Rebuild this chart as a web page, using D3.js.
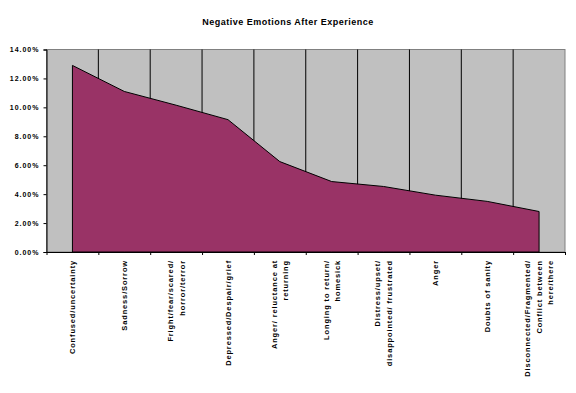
<!DOCTYPE html>
<html>
<head>
<meta charset="utf-8">
<script src="https://cdn.jsdelivr.net/npm/d3@7"></script>
<style>
  body { margin: 0; background: #fff; }
  text { font-family: "Liberation Sans", Arial, sans-serif; font-weight: bold; }
</style>
</head>
<body>
<svg width="576" height="393"></svg>
<script>
// data
var categories = [
  ["Confused/uncertainty"],
  ["Sadness/Sorrow"],
  ["Fright/fear/scared/", "horror/terror"],
  ["Depressed/Despair/grief"],
  ["Anger/ reluctance at", "returning"],
  ["Longing to return/", "homesick"],
  ["Distress/upset/", "disappointed/ frustrated"],
  ["Anger"],
  ["Doubts of sanity"],
  ["Disconnected/Fragmented/", "Conflict between", "here/there"]
];
var values = [0.129, 0.111, 0.1015, 0.0915, 0.0625, 0.0487, 0.0453, 0.0393, 0.035, 0.028];
var yTicks = [0, 0.02, 0.04, 0.06, 0.08, 0.10, 0.12, 0.14];

var svg = d3.select("svg"),
    margin = {top: 49.5, right: 11, bottom: 141, left: 46.5},
    width = 576 - margin.left - margin.right,
    height = 393 - margin.top - margin.bottom,
    g = svg.append("g")
      .attr("transform", "translate(" + margin.left + "," + margin.top + ")");

var names = categories.map(function(d) { return d.join(" "); });

var x = d3.scaleBand().domain(names).range([0, width]),
    xb = d3.scaleLinear().domain([0, names.length]).range([0, width]),
    y = d3.scaleLinear().domain([0, 0.14]).range([height, 0]);

// title
svg.append("text")
  .attr("x", 288)
  .attr("y", 25)
  .attr("text-anchor", "middle")
  .style("font-size", "9px")
  .style("letter-spacing", "0.5px")
  .text("Negative Emotions After Experience");

// plot area
g.append("rect")
  .attr("width", width)
  .attr("height", height)
  .attr("fill", "#c0c0c0")
  .attr("stroke", "#808080")
  .attr("stroke-width", 1);

// gridlines between categories
g.selectAll(".grid")
  .data(d3.range(1, names.length))
  .enter().append("line")
  .attr("x1", function(d) { return xb(d); })
  .attr("x2", function(d) { return xb(d); })
  .attr("y1", 0)
  .attr("y2", height)
  .attr("stroke", "#000")
  .attr("stroke-width", 1);

// area
var area = d3.area()
  .x(function(d, i) { return x(names[i]) + x.bandwidth() / 2; })
  .y0(height)
  .y1(function(d) { return y(d); });

g.append("path")
  .datum(values)
  .attr("d", area)
  .attr("fill", "#993366")
  .attr("stroke", "#000")
  .attr("stroke-width", 1);

// y axis
var yAxis = g.append("g")
  .call(d3.axisLeft(y).tickValues(yTicks).tickFormat(d3.format(".2%")).tickSize(3).tickPadding(4));
yAxis.select(".domain").attr("stroke", "#000");
yAxis.selectAll("text")
  .style("font-size", "7px")
  .style("letter-spacing", "1px")
  .attr("font-family", null);

// x axis (ticks at category boundaries)
var xAxis = g.append("g")
  .attr("transform", "translate(0," + height + ")")
  .call(d3.axisBottom(xb).tickValues(d3.range(names.length + 1)).tickFormat("").tickSize(3).tickSizeOuter(0));
xAxis.select(".domain").attr("stroke", "#000");

// category labels, rotated
var labels = g.selectAll(".xlab")
  .data(categories)
  .enter().append("text")
  .attr("class", "xlab")
  .attr("text-anchor", "end")
  .style("font-size", "7.5px")
  .style("letter-spacing", "0.85px")
  .attr("transform", function(d, i) {
    return "translate(" + (x(names[i]) + x.bandwidth() / 2) + "," + (height + 8) + ") rotate(-90)";
  });

labels.each(function(d) {
  var t = d3.select(this), n = d.length, lh = 11.5;
  d.forEach(function(line, j) {
    t.append("tspan")
      .attr("x", 0)
      .attr("y", (j - (n - 1) / 2) * lh + 2.7)
      .text(line);
  });
});
</script>
</body>
</html>
